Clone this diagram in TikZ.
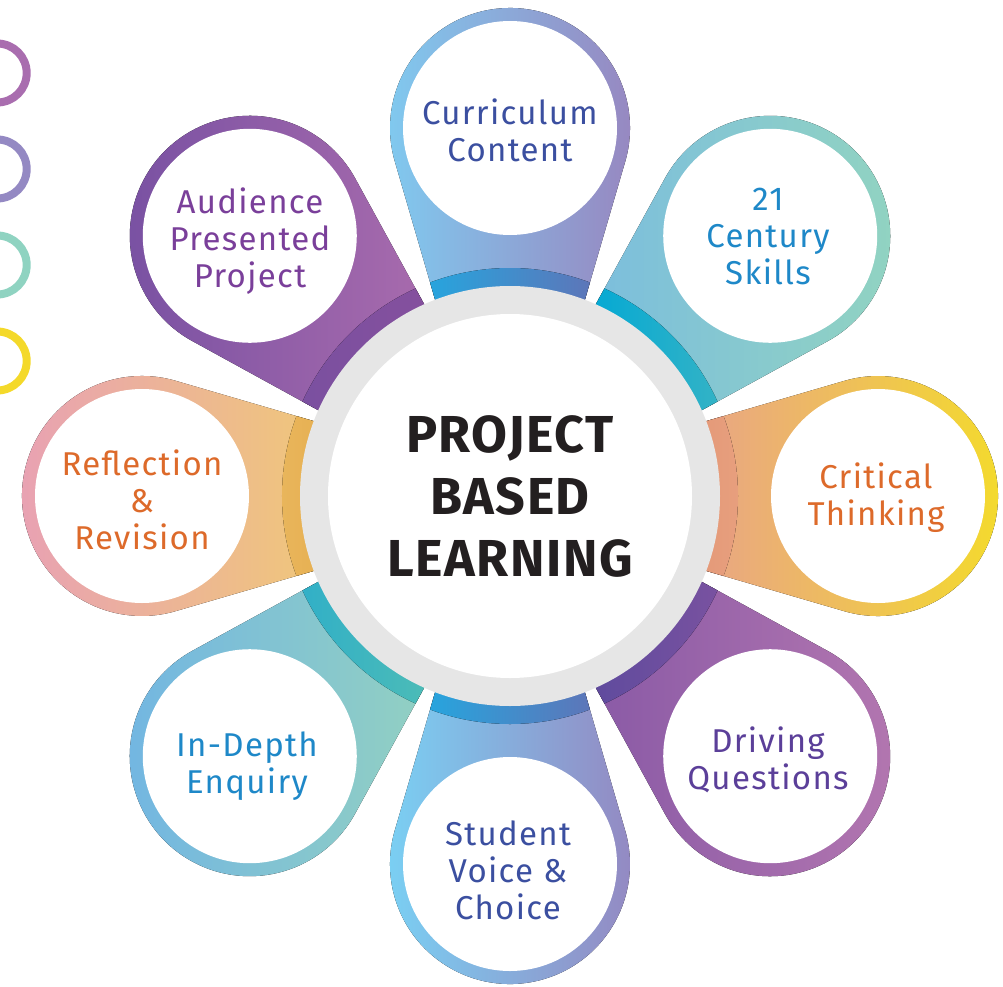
\documentclass[tikz,border=0pt]{standalone}
\usepackage{fontspec}
\setmainfont{Fira Sans}
\newfontfamily\petalfont[LetterSpace=4]{Fira Sans}
\newfontfamily\centerfont[LetterSpace=3]{Fira Sans}
\definecolor{ringgray}{HTML}{E6E6E6}
\definecolor{tblue}{HTML}{3B4FA0}
\definecolor{tsky}{HTML}{1E88C8}
\definecolor{torange}{HTML}{DD6A2A}
\definecolor{tpurple}{HTML}{5B3F99}
\definecolor{tmauve}{HTML}{7A3F9A}
\definecolor{tblack}{HTML}{231F20}
\definecolor{cA}{HTML}{A96DAF}
\definecolor{cB}{HTML}{9489C3}
\definecolor{cC}{HTML}{8FD3C1}
\definecolor{cD}{HTML}{F4D92A}
\tikzset{
  lbl/.style={align=center, font=\petalfont\fontsize{33}{37}\selectfont},
  ctr/.style={align=center, font=\centerfont\fontsize{52}{62}\selectfont\bfseries, text=tblack},
  deco/.style={line width=8pt}
}
% petal: #1 angle, #2 petal shading, #3 band shading
\newcommand\petalshape[1]{({#1+21}:205pt) -- ({#1+19}:353.67pt) arc[start angle={#1+106.27}, end angle={#1-106.27}, radius=120pt] -- ({#1-21}:205pt) arc[start angle={#1-21}, end angle={#1+21}, radius=205pt] -- cycle}
\newcommand\petal[3]{%
  \fill[#2] \petalshape{#1};
  \begin{scope}
    \clip \petalshape{#1};
    \fill[#3] ({#1-25}:228pt) arc[start angle={#1-25}, end angle={#1+25}, radius=228pt] -- ({#1+25}:200pt) arc[start angle={#1+25}, end angle={#1-25}, radius=200pt] -- cycle;
  \end{scope}
  \fill[white] (#1:368pt) circle[radius=107pt];
}
\begin{document}
\begin{tikzpicture}[x=1pt,y=1pt]
\useasboundingbox (-510,-490) rectangle (493,496);
% decorative circles at left edge
\draw[deco, cA] (-512.8,423) circle[radius=29.5pt];
\draw[deco, cB] (-512.8,327) circle[radius=29.5pt];
\draw[deco, cC] (-512.8,231) circle[radius=29.5pt];
\draw[deco, cD] (-512.8,135) circle[radius=29.5pt];
% petals
\petal{90}{left color={rgb,255:red,127;green,204;blue,241}, right color={rgb,255:red,151;green,136;blue,193}}{left color={rgb,255:red,34;green,169;blue,225}, right color={rgb,255:red,98;green,113;blue,181}}
\petal{45}{left color={rgb,255:red,124;green,190;blue,221}, right color={rgb,255:red,146;green,212;blue,192}}{left color={rgb,255:red,0;green,168;blue,213}, right color={rgb,255:red,53;green,179;blue,197}}
\petal{0}{left color={rgb,255:red,233;green,165;blue,133}, middle color={rgb,255:red,239;green,194;blue,123}, right color={rgb,255:red,244;green,220;blue,42}}{left color={rgb,255:red,227;green,152;blue,120}, right color={rgb,255:red,232;green,160;blue,126}}
\petal{-45}{left color={rgb,255:red,138;green,90;blue,166}, right color={rgb,255:red,180;green,119;blue,176}}{left color={rgb,255:red,92;green,74;blue,157}, right color={rgb,255:red,122;green,82;blue,160}}
\petal{-90}{left color={rgb,255:red,122;green,207;blue,243}, right color={rgb,255:red,149;green,134;blue,192}}{left color={rgb,255:red,34;green,169;blue,225}, right color={rgb,255:red,98;green,113;blue,181}}
\petal{-135}{left color={rgb,255:red,113;green,181;blue,227}, right color={rgb,255:red,146;green,208;blue,194}}{left color={rgb,255:red,48;green,175;blue,200}, right color={rgb,255:red,79;green,189;blue,181}}
\petal{180}{left color={rgb,255:red,232;green,160;blue,181}, right color={rgb,255:red,240;green,199;blue,122}}{left color={rgb,255:red,233;green,182;blue,93}, right color={rgb,255:red,230;green,175;blue,80}}
\petal{135}{left color={rgb,255:red,119;green,80;blue,162}, right color={rgb,255:red,168;green,107;blue,173}}{left color={rgb,255:red,122;green,80;blue,160}, right color={rgb,255:red,134;green,80;blue,157}}
% central ring
\fill[ringgray] (0,0) circle[radius=210pt];
\fill[white] (0,0) circle[radius=182pt];
% labels
\node[ctr] (pbl) at (0,0) {PROJECT\\BASED\\LEARNING};
\node[lbl, text=tblue] (cur) at (0,366) {Curriculum\\Content};
\node[lbl, text=tsky] (cen) at (258,260) {21\\Century\\Skills};
\node[lbl, text=torange] (cri) at (366,-2) {Critical\\Thinking};
\node[lbl, text=tpurple] (dri) at (258,-264) {Driving\\Questions};
\node[lbl, text=tblue] (stu) at (-2,-374) {Student\\Voice \&\\Choice};
\node[lbl, text=tsky] (ind) at (-263,-270) {In-Depth\\Enquiry};
\node[lbl, text=torange] (ref) at (-368,-4) {Reflection\\\&\\Revision};
\node[lbl, text=tmauve] (aud) at (-260,255) {Audience\\Presented\\Project};
\end{tikzpicture}
\end{document}
